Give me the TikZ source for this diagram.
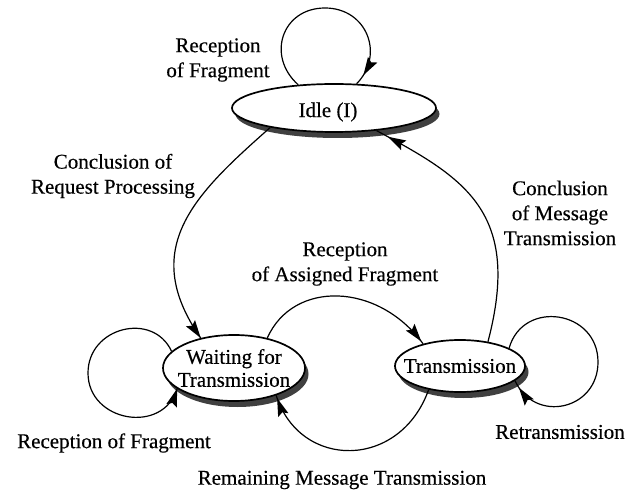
\documentclass[tikz,border=0pt]{standalone}
\usepackage{fontspec}
\setmainfont{Liberation Serif}[FakeBold=0.4]
\usetikzlibrary{shapes.geometric,decorations.markings,shadows}
\begin{document}
\begin{tikzpicture}[x=1pt,y=-1pt,
  every node/.style={font=\fontsize{21}{25}\selectfont},
  stateshape/.style={ellipse, draw, line width=1.7pt, fill=white, inner sep=0pt,
    drop shadow={shadow xshift=3.5pt, shadow yshift=-6pt, fill=black!75, opacity=1}},
  caption/.style={align=center, inner sep=0pt},
  link/.style={line width=1.2pt},
  % a slim filled arrowhead whose point sits at the given position on the path
  tipat/.style={postaction={decorate},
    decoration={markings, mark=at position #1 with
      {\fill (1pt,0pt) -- (-17pt,5.5pt) -- (-14pt,0pt) -- (-17pt,-5.5pt) -- cycle;}}}
]
\useasboundingbox (0,0) rectangle (640,494);

% states
\node[stateshape, minimum width=204pt, minimum height=48pt,
      label={[caption, xshift=-6pt, yshift=-4pt]center:Idle (I)}] (idle) at (334,108) {};
\node[stateshape, minimum width=142pt, minimum height=66pt,
      label={[caption, font=\fontsize{21}{23}\selectfont]center:Waiting for\\Transmission}] (wait) at (234,368) {};
\node[stateshape, minimum width=130pt, minimum height=52pt,
      label={[caption]center:Transmission}] (trans) at (460,366) {};

% self loops
\draw[link, tipat=-12pt] (idle.147) .. controls (266,56) and (282,8) .. (325,8)
      .. controls (367,8) and (385,55) .. (idle.47);
\draw[link, tipat=-1pt] (wait.165) .. controls (153,311) and (88,327) .. (88,373)
      .. controls (88,422) and (163,435) .. (wait.200);
\draw[link, tipat=-9pt] (trans.20) .. controls (523,299) and (598,310) .. (598,362)
      .. controls (598,410) and (535,424) .. (trans.-15);

% transitions between states
\draw[link, tipat=-1pt] (idle.197) .. controls (195,194) and (138,248) .. (wait.138);
\draw[link, tipat=-4pt] (wait.42) .. controls (293,280) and (378,282) .. (trans.149);
\draw[link, tipat=-4pt] (trans.217) .. controls (400,470) and (300,470) .. (wait.327);
\draw[link, tipat=-14pt] (trans.41) .. controls (522,212) and (465,178) .. (idle.332);

% transition labels
\node[caption] (lblA) at (218,60) {Reception\\of Fragment};
\node[caption] (lblB) at (113,176) {Conclusion of\\Request Processing};
\node[caption] (lblC) at (560,213) {Conclusion\\of Message\\Transmission};
\node[caption] (lblD) at (345,264) {Reception\\of Assigned Fragment};
\node[caption] (lblE) at (114,443) {Reception of Fragment};
\node[caption] (lblF) at (560,432) {Retransmission};
\node[caption] (lblG) at (342,480) {Remaining Message Transmission};
\end{tikzpicture}
\end{document}
